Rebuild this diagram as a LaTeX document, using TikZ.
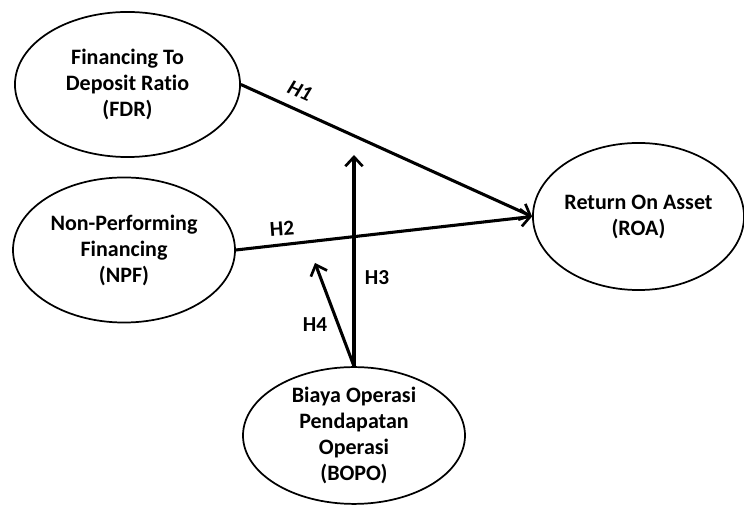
\documentclass[tikz,border=0pt]{standalone}
\usepackage{fontspec}
\setmainfont{Carlito}[Ligatures=NoCommon]
\usetikzlibrary{arrows.meta,shapes.geometric}

\begin{document}
\begin{tikzpicture}[
  x=0.75pt, y=-0.75pt,
  font=\fontsize{16.5}{19.5}\selectfont\bfseries,
  var/.style={draw, ellipse, line width=1.3pt, inner sep=0pt, align=center, fill=white},
  arrow/.style={-{Straight Barb[length=7pt,width=13pt,line width=2pt]}, line width=2.3pt},
  hyp/.style={font=\fontsize{16}{18}\selectfont\bfseries}
]
\useasboundingbox (0,0) rectangle (744,505);

\node[var, minimum width=168.8pt, minimum height=108.8pt] (fdr) at (127.5,84.5)
  {Financing To\\Deposit Ratio\\(FDR)};
\node[var, minimum width=166.5pt, minimum height=108.8pt] (npf) at (124,250)
  {Non-Performing\\Financing\\(NPF)};
\node[var, minimum width=158.3pt, minimum height=110.3pt] (roa) at (638.5,216.5)
  {Return On Asset\\(ROA)};
\node[var, minimum width=166.5pt, minimum height=101.3pt] (bopo) at (354,435.5)
  {Biaya Operasi\\Pendapatan\\Operasi\\(BOPO)};

\coordinate (h3tip) at (354,155);
\coordinate (h4tip) at (315,263);

\draw[arrow] (fdr.east) -- (roa.west);
\draw[arrow] (npf.east) -- (roa.west);
\draw[arrow] (bopo.north) -- (h3tip);
\draw[arrow] (bopo.north) -- (h4tip);

\node[hyp, rotate=-24] (h1) at (300,91) {\itshape H1};
\node[hyp, rotate=4] (h2) at (282,229) {H2};
\node[hyp] (h3) at (377,278) {H3};
\node[hyp] (h4) at (315,325) {H4};

\end{tikzpicture}
\end{document}
